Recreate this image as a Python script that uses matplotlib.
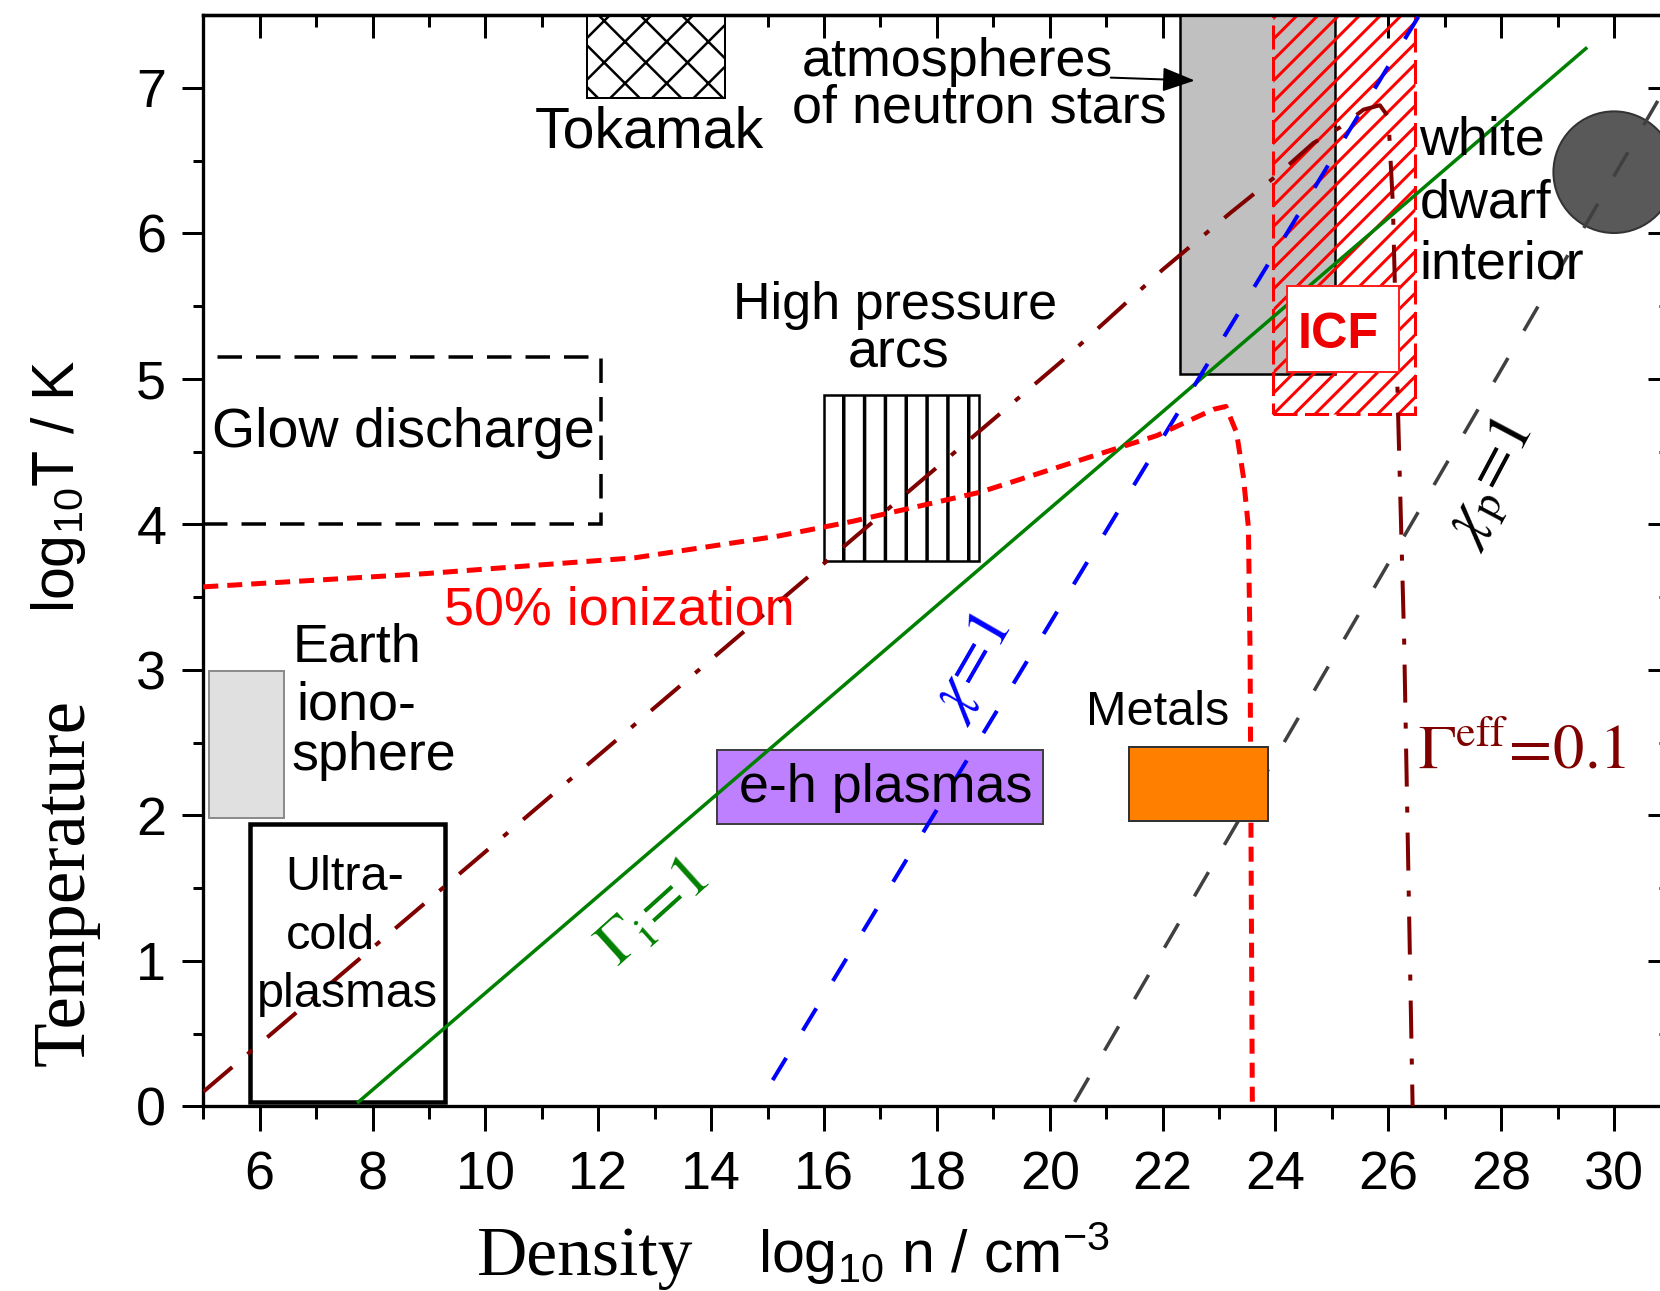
import matplotlib
matplotlib.use('Agg')
import matplotlib.pyplot as plt
from matplotlib.patches import Rectangle, Ellipse

DPI = 125
W, H = 1660, 1291


def pt(px):
    # pixel size -> points at this dpi
    return px * 72 / DPI


# ---- boundary lines (log10 n, log10 T) ----
gamma_i_n = [7.75, 29.5]
gamma_i_T = [0.03, 7.27]
chi_n = [15.09, 26.55]
chi_T = [0.18, 7.5]
chi_p_n = [20.44, 31.0]
chi_p_T = [0.03, 7.06]
ion50_n = [5.0, 8.9, 12.65, 15.2, 16.5, 18.76, 20.53, 21.9, 22.9, 23.12, 23.31, 23.43, 23.52, 23.55, 23.59]
ion50_T = [3.57, 3.66, 3.77, 3.92, 4.02, 4.22, 4.44, 4.61, 4.79, 4.81, 4.63, 4.33, 3.98, 3.11, 0.0]
geff_n = [5.0, 10.0, 15.45, 20.24, 22.0, 23.2, 24.0, 24.67, 25.15, 25.56, 25.85, 26.0, 26.08, 26.17, 26.28, 26.43]
geff_T = [0.1, 1.75, 3.55, 5.13, 5.75, 6.14, 6.39, 6.62, 6.73, 6.85, 6.88, 6.8, 6.2, 4.8, 3.2, 0.0]

# ---- regions: (n_min, n_max, T_min, T_max) ----
glow = (5.0, 12.05, 4.0, 5.15)
earth = (5.1, 6.43, 1.98, 2.99)
ultracold = (5.83, 9.28, 0.03, 1.94)
tokamak = (11.8, 14.25, 6.93, 7.5)
arcs = (16.0, 18.75, 3.75, 4.89)
eh = (14.1, 19.88, 1.94, 2.45)
metals = (21.4, 23.87, 1.96, 2.47)
neutron = (22.3, 25.05, 5.03, 7.5)
icf_zone = (23.95, 26.48, 4.76, 7.5)
icf_box = (24.2, 26.19, 5.05, 5.64)
dwarf_center = (30.0, 6.42)
dwarf_size = (2.15, 0.836)

x_major = list(range(6, 31, 2))
x_minor = list(range(5, 32, 2))
y_major = list(range(0, 8))
y_minor = [i + 0.5 for i in range(0, 7)]

plt.rcParams['font.family'] = 'Liberation Sans'
plt.rcParams['hatch.linewidth'] = pt(3)

fig = plt.figure(figsize=(W / DPI, H / DPI), dpi=DPI)
ax = fig.add_axes([203.3 / W, 1 - 1106.3 / H, 1467.2 / W, 1091.25 / H])
ax.set_xlim(5, 31)
ax.set_ylim(0, 7.5)


def box(r, hatch_lw=None, **kw):
    p = Rectangle((r[0], r[2]), r[1] - r[0], r[3] - r[2], **kw)
    if hatch_lw is not None and hasattr(p, 'set_hatch_linewidth'):
        p.set_hatch_linewidth(hatch_lw)
    ax.add_patch(p)
    return p


#regions
box(neutron, fc='#c0c0c0', ec='black', lw=pt(2.5), zorder=1)
box(icf_zone, fc='none', ec='#ff0000', hatch='//', lw=pt(3), ls=(0, (8, 2.5)), hatch_lw=pt(3), zorder=1.5)
box(glow, fill=False, ec='black', lw=pt(3.5), ls=(0, (7, 4)), zorder=1)
box(earth, fc='#e0e0e0', ec='#8c8c8c', lw=pt(2), zorder=1)
box(ultracold, fill=False, ec='black', lw=pt(4.5), zorder=1)
box(tokamak, fc='white', ec='black', hatch='x', lw=pt(2), hatch_lw=pt(2.5), zorder=1)
box(arcs, fc='none', ec='black', hatch='|', lw=pt(2.5), hatch_lw=pt(3.5), zorder=1)
box(eh, fc='#bf80ff', ec='#404040', lw=pt(2), zorder=1)
ax.add_patch(Ellipse(dwarf_center, dwarf_size[0], dwarf_size[1], fc='#595959', ec='#333333', lw=pt(2), zorder=1))

#lines
ax.plot(gamma_i_n, gamma_i_T, color='#008000', lw=pt(3.5), zorder=3)
ax.plot(chi_n, chi_T, color='#0000ff', lw=pt(4), ls=(0, (6.5, 8)), zorder=3)
ax.plot(chi_p_n, chi_p_T, color='#404040', lw=pt(3.5), ls=(0, (8, 9)), zorder=3)
ax.plot(ion50_n, ion50_T, color='#ff0000', lw=pt(5), ls=(0, (3, 1.8)), zorder=3)
ax.plot(geff_n, geff_T, color='#800000', lw=pt(4), ls=(0, (9.5, 5, 1.5, 5)), zorder=3)

# boxes drawn over the lines
box(metals, fc='#ff8000', ec='#333333', lw=pt(2), zorder=4)
box(icf_box, fc='white', ec='#ff2020', lw=pt(2), zorder=4)

#region labels
txt = dict(fontsize=31, va='baseline', zorder=5)
ax.text(10.87, 6.59, 'Tokamak', fontsize=33, va='baseline', zorder=5)
ax.text(15.6, 7.08, 'atmospheres', **txt)
ax.text(15.43, 6.76, 'of neutron stars', **txt)
ax.text(26.55, 6.54, 'white', **txt)
ax.text(26.55, 6.11, 'dwarf', **txt)
ax.text(26.55, 5.69, 'interior', **txt)
ax.text(17.25, 5.41, 'High pressure', ha='center', fontsize=30, va='baseline', zorder=5)
ax.text(17.33, 5.08, 'arcs', ha='center', **txt)
ax.text(5.15, 4.53, 'Glow discharge', fontsize=32, va='baseline', zorder=5)
ax.text(12.37, 3.31, '50% ionization', ha='center', color='#ff0000', **txt)
ax.text(6.59, 3.06, 'Earth', **txt)
ax.text(6.65, 2.66, 'iono-', **txt)
ax.text(6.56, 2.31, 'sphere', **txt)
ax.text(14.49, 2.09, 'e-h plasmas', **txt)
small = dict(fontsize=28, va='baseline', zorder=5)
ax.text(6.46, 1.49, 'Ultra-', **small)
ax.text(6.46, 1.08, 'cold', **small)
ax.text(5.95, 0.68, 'plasmas', **small)
ax.text(20.65, 2.62, 'Metals', **small)
ax.text(24.4, 5.21, 'ICF', color='#ee0000', fontweight='bold', fontsize=29, va='baseline', zorder=5)

ax.annotate('', xy=(22.57, 7.05), xytext=(21.08, 7.07),
            arrowprops=dict(arrowstyle='-|>,head_length=0.4,head_width=0.15', color='black',
                            lw=pt(2), mutation_scale=40, shrinkA=0, shrinkB=0), zorder=5)

#line labels
mt = dict(fontsize=36, math_fontfamily='stix', zorder=5)
ax.text(26.53, 2.32, r'$\Gamma^{\mathrm{eff}}\!=\!0.1$', color='#800000', va='baseline', **mt)
ax.text(27.8, 4.28, r'$\chi_{\mathrm{p}}\!=\!1$', color='black', rotation=62,
        rotation_mode='anchor', ha='center', va='center', **mt)
ax.text(18.6, 3.02, r'$\chi\!=\!1$', color='#0000ff', rotation=60,
        rotation_mode='anchor', ha='center', va='center', **mt)
ax.text(12.98, 1.33, r'$\Gamma_{\mathrm{i}}\!=\!1$', color='#008000', rotation=42,
        rotation_mode='anchor', ha='center', va='center', **mt)

#axes and ticks
for s in ax.spines.values():
    s.set_linewidth(pt(3.3))
ax.set_xticks(x_major)
ax.set_xticks(x_minor, minor=True)
ax.set_yticks(y_major)
ax.set_yticks(y_minor, minor=True)
ax.tick_params(which='both', direction='out', width=pt(3), labelsize=31, top=False, right=False)
ax.tick_params(axis='x', which='major', length=pt(25), pad=pt(19))
ax.tick_params(axis='x', which='minor', length=pt(13))
ax.tick_params(axis='y', which='major', length=pt(21), pad=pt(16))
ax.tick_params(axis='y', which='minor', length=pt(10))

top = ax.secondary_xaxis('top')
top.set_ticks(x_major)
top.set_ticks(x_minor, minor=True)
top.tick_params(which='both', direction='in', width=pt(3), labeltop=False)
top.tick_params(which='major', length=pt(23))
top.tick_params(which='minor', length=pt(12))
top.spines['top'].set_linewidth(pt(3.3))

right = ax.secondary_yaxis('right')
right.set_ticks(y_major)
right.set_ticks(y_minor, minor=True)
right.tick_params(which='both', direction='in', width=pt(3), labelright=False)
right.tick_params(which='major', length=pt(23))
right.tick_params(which='minor', length=pt(12))

#axis titles
fig.text(84 / W, 1 - 883 / H, 'Temperature', family='Liberation Serif', fontsize=42,
         rotation=90, rotation_mode='anchor', ha='center', va='baseline')
fig.text(74 / W, 1 - 487 / H, r'log$_{\mathregular{10}}$T / K', fontsize=34,
         rotation=90, rotation_mode='anchor', ha='center', va='baseline')
fig.text(585 / W, 1 - 1275 / H, 'Density', family='Liberation Serif', fontsize=40,
         ha='center', va='baseline')
fig.text(757.6 / W, 1 - 1273 / H, r'log$_{\mathregular{10}}$ n / cm$^{\mathregular{-3}}$', fontsize=34,
         ha='left', va='baseline')

fig.savefig('out.png', dpi=DPI)
